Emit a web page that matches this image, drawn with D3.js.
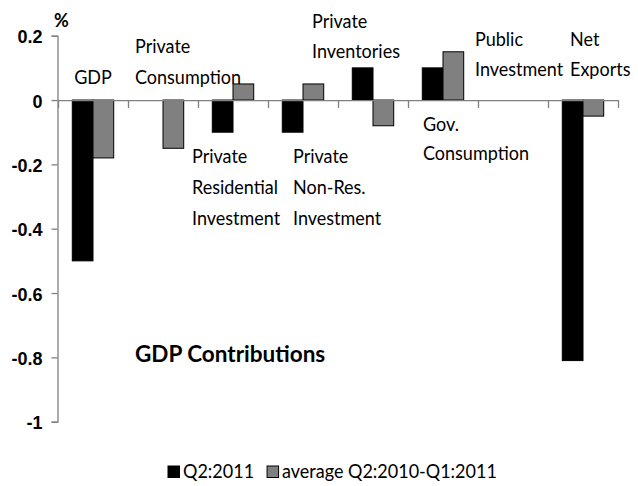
<!DOCTYPE html>
<html>
<head>
<meta charset="utf-8">
<script src="https://cdn.jsdelivr.net/npm/d3@7"></script>
<style>
  body { margin: 0; background: #fff; }
  svg { display: block; font-family: Lato, 'Open Sans', sans-serif; }
  .lbl { font-size: 20px; fill: #000; }
  .tick text { font-size: 18px; font-weight: bold; fill: #000; }
</style>
</head>
<body>
<svg id="chart" width="638" height="486"></svg>
<script>
const categories = ['GDP', 'Private Consumption', 'Private Residential Investment',
  'Private Non-Res. Investment', 'Private Inventories', 'Gov. Consumption',
  'Public Investment', 'Net Exports'];
const seriesNames = ['Q2:2011', 'average Q2:2010-Q1:2011'];
const q2011 = [-0.5, 0, -0.1, -0.1, 0.1, 0.1, 0, -0.81];
const avgPrev = [-0.18, -0.15, 0.05, 0.05, -0.08, 0.15, 0, -0.05];
const yTicks = [0.2, 0, -0.2, -0.4, -0.6, -0.8, -1];

// how each category label is split and placed (offset from band start, baselines)
const labelLayout = [
  { lines: ['GDP'], dx: 35, anchor: 'middle', ys: [84] },
  { lines: ['Private', 'Consumption'], dx: 7, ys: [53, 84] },
  { lines: ['Private', 'Residential', 'Investment'], dx: -6, ys: [163, 194, 225] },
  { lines: ['Private', 'Non-Res.', 'Investment'], dx: 25, ys: [163, 194, 225] },
  { lines: ['Private', 'Inventories'], dx: -26, ys: [28, 58] },
  { lines: ['Gov.', 'Consumption'], dx: 15, ys: [131, 160] },
  { lines: ['Public', 'Investment'], dx: -3, ys: [46, 76] },
  { lines: ['Net', 'Exports'], dx: 22, ys: [46, 76] }
];

const colors = ['#000000', '#808080'];
const NARROW = 'scale(0.9,1)'; // the source face is narrower than Lato
const svg = d3.select('#chart');

const x0 = d3.scaleBand().domain(categories).range([58, 618]);
const x1 = d3.scaleBand().domain(seriesNames).range([0, x0.bandwidth()]).paddingOuter(0.69);
const y = d3.scaleLinear().domain([-1, 0.2]).range([421.7, 35.7]);

const rows = categories.map((c, i) => ({ cat: c, vals: [q2011[i], avgPrev[i]] }));

// bars
const groups = svg.append('g').selectAll('g')
  .data(rows)
  .join('g')
  .attr('transform', d => 'translate(' + x0(d.cat) + ',0)');
groups.selectAll('rect')
  .data(d => d.vals.map((v, k) => ({ v, k })).filter(e => e.v !== 0))
  .join('rect')
  .attr('x', e => x1(seriesNames[e.k]))
  .attr('width', x1.bandwidth())
  .attr('y', e => y(Math.max(0, e.v)))
  .attr('height', e => Math.abs(y(e.v) - y(0)))
  .attr('fill', e => colors[e.k])
  .attr('stroke', '#000')
  .attr('stroke-width', 1);

// y axis
const yAxis = svg.append('g')
  .attr('transform', 'translate(57.5,0)')
  .call(d3.axisLeft(y).tickValues(yTicks).tickSize(6).tickPadding(9)
    .tickFormat(d => String(+d.toFixed(1))));
yAxis.select('.domain').attr('stroke', '#808080').attr('stroke-width', 1.3);
yAxis.selectAll('.tick line').attr('stroke', '#808080').attr('stroke-width', 1.3);
yAxis.selectAll('.tick text').attr('dy', '0.4em');

// x axis along zero with ticks at category boundaries
const edge = d3.scaleLinear().domain([0, categories.length]).range(x0.range());
const xAxis = svg.append('g')
  .attr('transform', 'translate(0,' + y(0) + ')')
  .call(d3.axisBottom(edge).tickValues(d3.range(0, categories.length + 1))
    .tickSize(8).tickSizeOuter(0).tickFormat(''));
xAxis.select('.domain').attr('stroke', '#808080').attr('stroke-width', 1.3);
xAxis.selectAll('.tick line').attr('stroke', '#808080').attr('stroke-width', 1.3);

// category labels
labelLayout.forEach((l, i) => {
  const t = svg.append('g')
    .attr('transform', 'translate(' + (x0(categories[i]) + l.dx) + ',0) ' + NARROW)
    .append('text').attr('class', 'lbl')
    .attr('text-anchor', l.anchor || 'start');
  l.lines.forEach((line, j) => {
    t.append('tspan').attr('x', 0).attr('y', l.ys[j]).text(line);
  });
});

// unit and title
svg.append('text').attr('x', 54).attr('y', 27)
  .style('font-size', '18px').style('font-weight', 'bold').text('%');
svg.append('text').attr('x', 135).attr('y', 362)
  .style('font-size', '22.5px').style('font-weight', 'bold').text('GDP Contributions');

// legend
const legend = svg.append('g').attr('transform', 'translate(168,478)');
let lx = 0;
seriesNames.forEach((s, k) => {
  legend.append('rect').attr('x', lx).attr('y', -12).attr('width', 11.5).attr('height', 11.5)
    .attr('fill', colors[k]).attr('stroke', '#000').attr('stroke-width', 1);
  const t = legend.append('g')
    .attr('transform', 'translate(' + (lx + 15) + ',0) ' + NARROW)
    .append('text').attr('class', 'lbl').text(s);
  lx += 15 + t.node().getComputedTextLength() * 0.9 + 13;
});
</script>
</body>
</html>
